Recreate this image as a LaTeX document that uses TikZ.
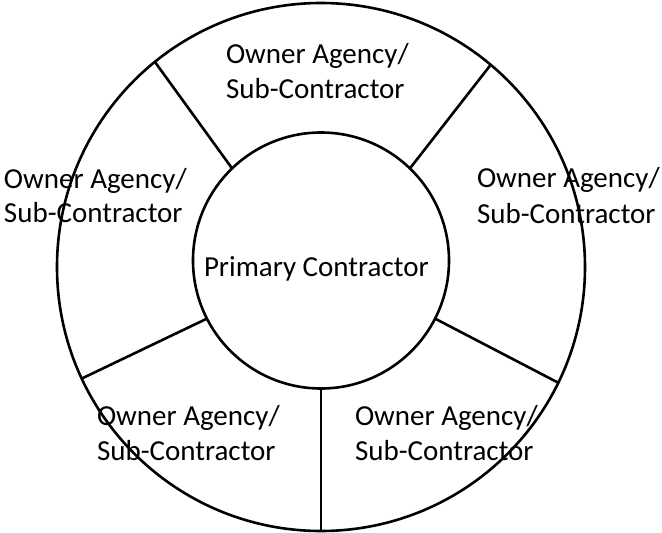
\documentclass[tikz,border=0pt]{standalone}
\usepackage{fontspec}
\setmainfont{Carlito}
\begin{document}
\begin{tikzpicture}[x=1pt,y=-1pt,
  ring/.style={draw=black, line width=2.6pt, circle, inner sep=0pt, outer sep=0pt},
  divider/.style={draw=black, line width=2.6pt},
  lbl/.style={anchor=base west, inner sep=0pt, outer sep=0pt, text=black, font=\fontsize{29}{35}\selectfont}]
\useasboundingbox (0,0) rectangle (662,533);
\fill[white] (0,0) rectangle (662,533);
\node[ring, minimum size=528pt] (outer) at (321,267) {};
\node[ring, minimum size=256pt] (inner) at (321,260.5) {};
\draw[divider] (inner.134) -- (outer.129.5);
\draw[divider] (inner.46) -- (outer.50.5);
\draw[divider] (inner.207) -- (outer.205.5);
\draw[divider] (inner.333) -- (outer.334.5);
\draw[divider] (inner.270) -- (outer.270);
\node[lbl] (primary) at (204,276) {Primary Contractor};
\node[lbl] (top1) at (226,63) {Owner Agency/};
\node[lbl] (top2) at (226,98) {Sub-Contractor};
\node[lbl] (ur1) at (477,187) {Owner Agency/};
\node[lbl] (ur2) at (477,223) {Sub-Contractor};
\node[lbl] (ul1) at (4,188) {Owner Agency/};
\node[lbl] (ul2) at (4,222) {Sub-Contractor};
\node[lbl] (ll1) at (97,425) {Owner Agency/};
\node[lbl] (ll2) at (97,460) {Sub-Contractor};
\node[lbl] (lr1) at (355,425) {Owner Agency/};
\node[lbl] (lr2) at (355,460) {Sub-Contractor};
\end{tikzpicture}
\end{document}
